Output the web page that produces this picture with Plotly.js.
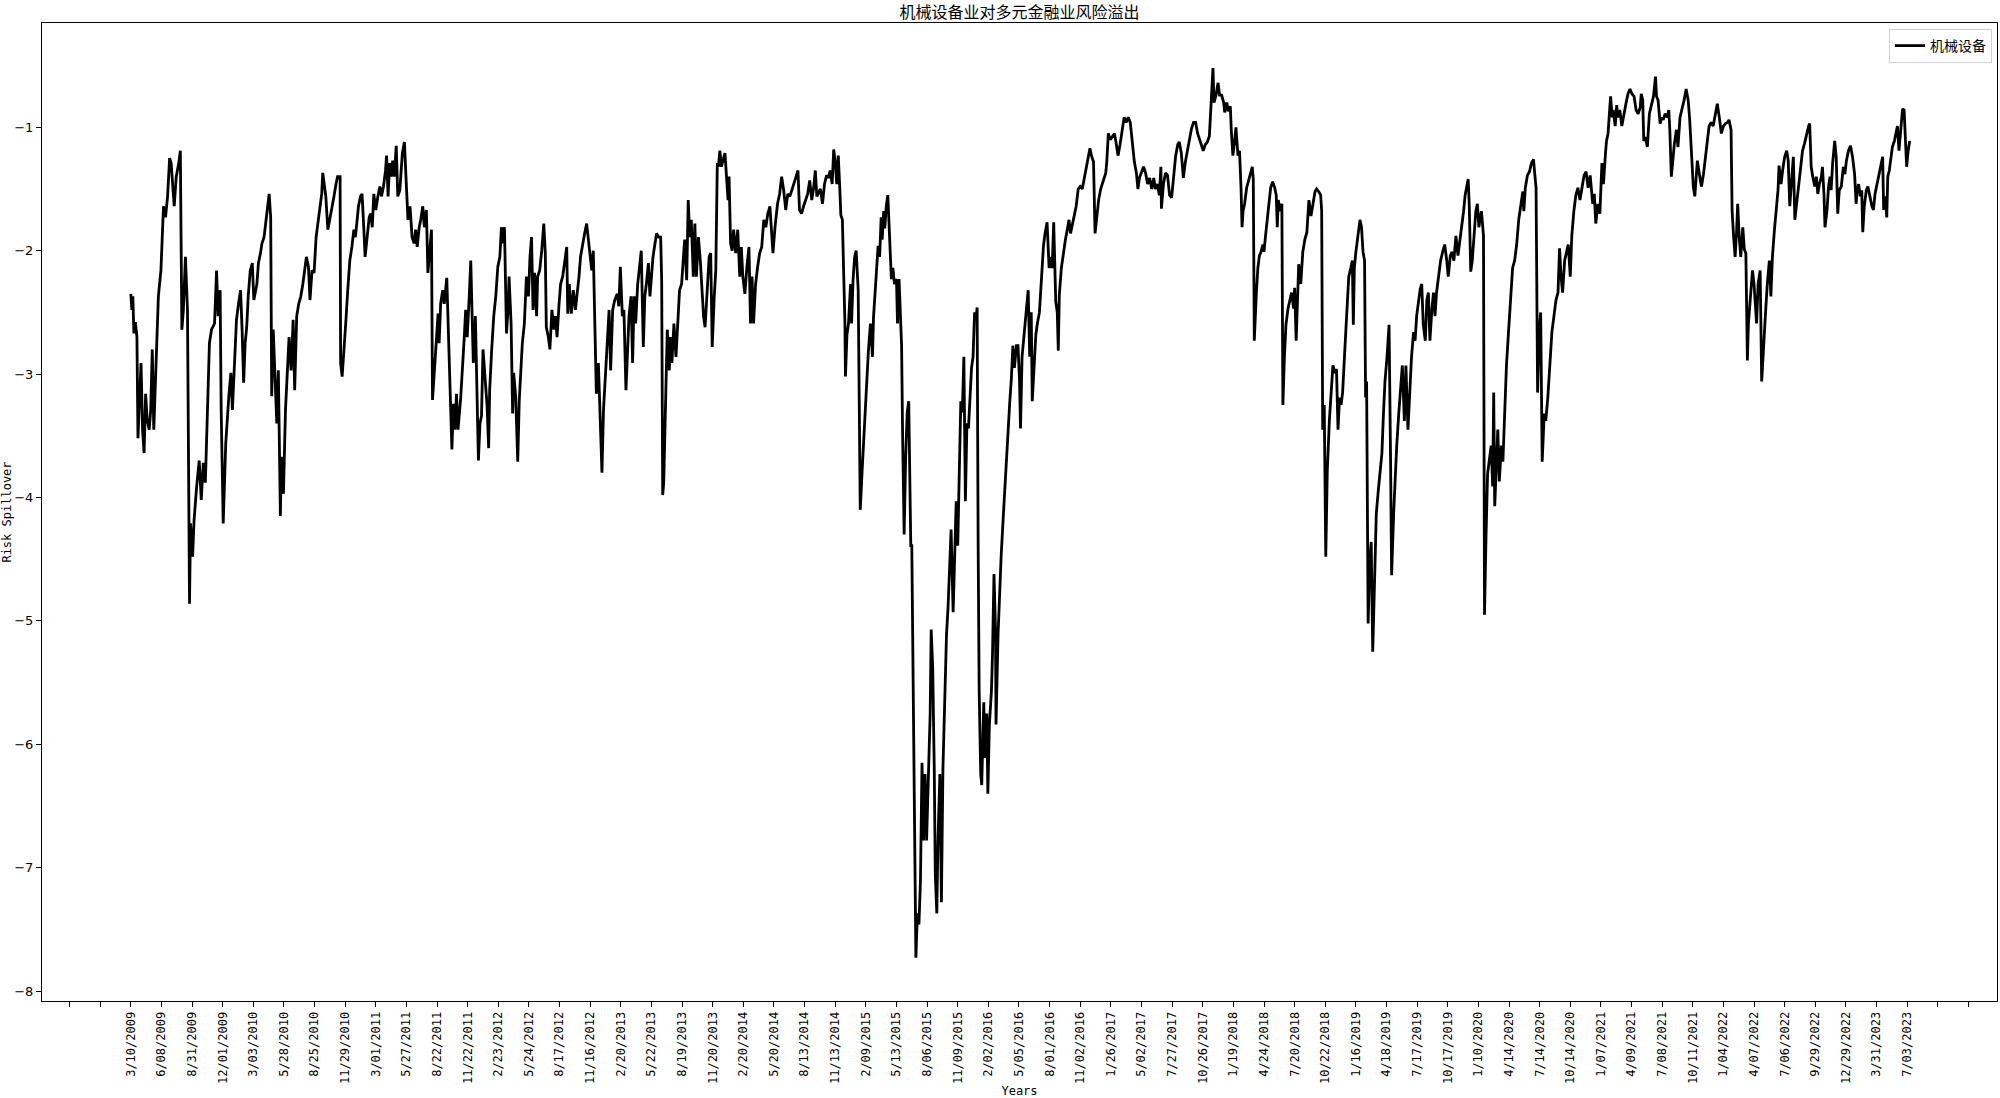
<!DOCTYPE html>
<html>
<head>
<meta charset="utf-8">
<script src="https://cdn.plot.ly/plotly-3.0.1.min.js"></script>
<style>
  html, body { margin: 0; padding: 0; background: #fff; }
  #chart { width: 2000px; height: 1098px; }
</style>
</head>
<body>
<div id="chart"></div>
<script>
// Trading-day index of each reading (0 = 3/10/2009) and the spillover value read there
const dayIndex = [
  0,2,4,6,9,12,14,17,20,23,26,29,32,36,39,42,45,49,54,59,64,68,72,76,79,85,89,94,97,100,
  103,107,111,115,117,121,124,129,134,138,142,146,150,154,158,164,168,171,175,177,181,186,192,196,199,202,207,211,215,218,
  221,224,227,230,234,238,241,247,250,254,257,261,265,268,271,274,276,279,282,286,289,293,295,299,303,307,310,314,318,321,
  325,329,333,337,341,344,348,351,355,359,363,367,371,374,376,380,382,386,390,394,398,402,405,410,411,414,418,421,425,429,
  433,437,440,443,446,450,453,456,459,463,467,470,473,476,480,484,488,491,495,499,501,504,507,510,513,516,520,523,527,532,
  536,539,543,547,551,555,558,561,565,568,572,575,579,582,586,589,591,
  598,602,604,607,611,614,619,621,624,626,629,632,635,638,641,646,650,653,656,659,663,666,669,671,675,677,681,684,687,690,
  694,698,701,703,707,711,715,719,723,726,729,732,736,739,741,745,748,750,754,758,761,764,767,771,775,779,782,785,788,791,
  795,797,801,805,809,812,814,818,821,825,829,832,835,839,842,846,850,854,856,859,863,867,871,874,878,881,885,889,893,897,
  900,903,906,909,912,916,919,923,926,930,934,937,940,944,948,953,956,959,963,966,970,973,976,980,983,986,989,993,997,1000,
  1004,1007,1010,1014,1017,1020,1023,1027,1030,1034,1038,1040,1042,1044,1048,1051,1055,1057,1060,1064,1068,1072,1075,1079,1082,1085,1089,1092,1095,1098,
  1102,1105,1108,1112,1116,1120,1122,1125,1129,1133,1136,1139,1143,1146,1149,1151,1154,1157,1160,1164,1167,1170,1172,1175,1178,1181,1185,1189,1193,1196,
  1199,1203,1207,1211,1214,1217,1220,1224,1228,1232,1236,1240,1244,1248,1252,1255,1258,1262,1267,1271,1275,1279,1283,1287,1291,1295,1299,1303,1307,1310,
  1314,1318,1322,1326,1330,1334,1338,1341,1344,
  1351,1355,1359,1363,1367,1370,1374,1377,1380,1383,1386,1389,1391,1394,1397,1399,1400,1403,1406,1410,1412,1415,1418,1421,1425,1427,1429,1433,1437,1441,
  1445,1449,1453,1455,1458,1461,1464,1467,1470,1472,1475,1477,1480,1483,1487,1490,1493,1496,1500,1502,1505,1508,1510,1512,1515,1518,1521,1524,1526,1528,
  1530,1532,1534,1536,1538,1541,1544,1547,1550,1553,1556,1559,1562,1566,1568,1571,1574,1576,1579,1581,1585,1588,1591,1594,1598,1601,1604,1607,1611,1614,
  1617,1620,1624,1626,1629,1632,1635,1638,1641,1645,1647,1650,1653,1656,1658,1660,1662,1665,1667,1671,1673,1677,1679,1682,1686,1688,1691,1694,1695,1699,
  1702,1705,1709,1712,1715,1718,1722,1725,1728,1731,1735,1738,1741,1743,1746,1750,1754,1758,1761,1764,1766,1769,1773,1776,1780,1784,1788,1791,1795,1799,
  1802,1805,1808,1812,1815,1817,1819,1823,1827,1831,1835,1838,1841,1844,1848,1852,1856,1860,1864,1868,1872,1876,1879,1882,1886,1889,1893,1896,1900,1903,
  1907,1910,1912,1915,1919,1923,1927,1930,1934,1938,1942,1946,1950,1954,1958,1962,1966,1970,1973,1976,1980,1984,1988,1992,1996,2000,2004,2007,2011,2015,
  2018,2019,2023,2027,2031,2035,2039,2043,2047,2051,2054,2058,2062,2066,2070,2074,2078,2082,2086,2090,2094,2098,2101,2105,2109,2113,
  2117,2120,2122,2126,2130,2133,2137,2141,2143,2147,2150,2154,2156,2159,2162,2165,2169,2172,2175,2177,2179,2182,2186,2190,2194,2197,2199,2201,2205,2208,
  2211,2214,2218,2220,2223,2226,2229,2233,2237,2241,2244,2246,2248,2252,2255,2257,2260,2263,2267,2271,2274,2278,2280,2283,2286,2288,2292,2296,2300,2304,
  2308,2312,2316,2320,2323,2327,2331,2333,2335,2338,2341,2344,2348,2352,2355,2359,2362,2365,2368,2371,2374,2378,2382,2386,2390,2393,2395,2397,2400,2404,
  2408,2411,2414,2417,2419,2421,2424,2427,2430,2433,2436,2440,2444,2447,2451,2454,2457,2461,2465,2468,2470,2474,2477,2480,2484,2488,2491,2495,2498,2502,
  2506,2509,2513,2516,2519,2522,2526,2529,2532,2536,2539,2542,2545,2549,2552,2555,2558,2562,2566,2570,2574,2578,2581,2585,2588,2592,2596,2600,2603,2607,
  2611,2614,2617,2620,2622,2625,2628,2631,2635,2638,2641,2643,2646,2650,2652,2655,2658,2661,2665,2668,2670,2672,2675,2678,2681,2685,2688,2692,2695,2699,
  2703,2707,2711,2715,2719,2723,2727,2729,2732,2736,2740,2744,2748,2750,2753,2756,2759,2762,2765,2769,2772,2776,2780,2784,2788,2792,2796,2799,2802,2805,
  2809,2813,2816,2820,2823,2827,2831,2835,2839,2843,2847,2851,2855,2859,
  2864,2867,2870,2874,2878,2882,2885,2889,2891,2894,2897,2899,2902,2904,2908,2911,2913,2917,2921,2925,2929,2933,2937,2941,2945,2949,2953,2957,2959,2962,
  2964,2967,2971,2975,2979,2983,2987,2989,2992,2996,2999,3002,3006,3010,3013,3015,3018,3021,3024,3028,3031,3035,3039,3043,3047,3051,3054,3058,3061,3064,
  3066,3069,3073,3077,3081,3084,3088,3092,3096,3100,3104,3108,3112,3116,3120,3124,3128,3131,3135,3137,3140,3143,3146,3148,3151,3154,3158,3161,3164,3167,
  3169,3173,3177,3180,3182,3185,3188,3192,3195,3199,3202,3206,3210,3213,3216,3220,3223,3227,3229,3233,3236,3240,3244,3247,3250,3253,3257,3260,3263,3267,
  3271,3275,3279,3283,3287,3289,3292,3295,3299,3302,3305,3308,3312,3314,3317,3319,3323,3326,3329,3331,3334,3338,3341,3344,3347,3351,3355,3358,3361,3365,
  3369,3373,3377,3380,3382,3385,3388,3391,3393,3396,3400,3403,3407,3411,3414,3417,3421,3425,3429,3432,3434,3437,3440,3442,3445,3448,3451,3455,3458,3461,
  3464,3468,3471,3474,3476,3479,3482,3485
];

const spillover = [
  -2.35,-2.48,-2.37,-2.67,-2.58,-2.70,-3.52,-3.21,-2.91,-3.45,-3.64,-3.16,-3.37,-3.45,-3.29,-2.80,-3.45,-2.97,-2.37,-2.16,-1.64,-1.73,-1.56,-1.25,-1.29,-1.64,-1.40,-1.29,-1.19,-2.64,
  -2.48,-2.05,-2.48,-4.86,-4.21,-4.48,-4.18,-3.91,-3.70,-4.02,-3.72,-3.88,-3.29,-2.75,-2.64,-2.59,-2.16,-2.53,-2.32,-3.29,-4.21,-3.56,-3.18,-2.99,-3.29,-2.97,-2.56,-2.43,-2.32,-2.64,
  -3.07,-2.75,-2.62,-2.37,-2.16,-2.10,-2.40,-2.27,-2.10,-2.02,-1.94,-1.89,-1.73,-1.64,-1.54,-1.73,-3.18,-2.64,-2.91,-3.40,-2.97,-4.15,-3.67,-3.97,-3.29,-2.99,-2.70,-2.97,-2.56,-3.13,
  -2.53,-2.43,-2.37,-2.27,-2.13,-2.05,-2.13,-2.40,-2.16,-2.18,-1.89,-1.75,-1.64,-1.54,-1.37,-1.51,-1.56,-1.83,-1.75,-1.64,-1.56,-1.46,-1.40,-1.40,-2.91,-3.02,-2.80,-2.59,-2.32,-2.08,
  -1.97,-1.83,-1.89,-1.78,-1.64,-1.56,-1.54,-1.78,-2.05,-1.89,-1.73,-1.70,-1.81,-1.54,-1.67,-1.56,-1.48,-1.56,-1.48,-1.35,-1.23,-1.56,-1.29,-1.40,-1.27,-1.40,-1.15,-1.56,-1.51,-1.21,
  -1.12,-1.40,-1.75,-1.64,-1.89,-1.94,-1.83,-1.97,-1.81,-1.75,-1.64,-1.81,-1.67,-2.18,-1.94,-1.83,-3.21,
  -2.75,-2.51,-2.75,-2.43,-2.32,-2.43,-2.22,-2.48,-2.86,-3.07,-3.61,-3.24,-3.45,-3.16,-3.45,-3.21,-2.86,-2.72,-2.48,-2.70,-2.37,-2.08,-2.59,-2.91,-2.53,-2.91,-3.70,-3.40,-3.34,-2.80,
  -3.07,-3.26,-3.60,-3.13,-2.80,-2.53,-2.37,-2.13,-2.05,-1.81,-1.94,-1.81,-2.67,-2.48,-2.21,-2.59,-3.32,-2.99,-3.18,-3.71,-3.21,-3.02,-2.75,-2.59,-2.21,-2.37,-2.05,-1.89,-2.48,-2.18,
  -2.53,-2.21,-2.16,-2.00,-1.78,-2.02,-2.62,-2.70,-2.80,-2.48,-2.64,-2.53,-2.70,-2.43,-2.27,-2.21,-2.08,-1.97,-2.51,-2.27,-2.51,-2.32,-2.48,-2.37,-2.21,-2.05,-1.94,-1.86,-1.78,-1.94,
  -2.05,-2.16,-2.00,-2.62,-3.16,-2.91,-3.29,-3.80,-3.29,-2.97,-2.70,-2.48,-2.97,-2.48,-2.40,-2.35,-2.45,-2.13,-2.53,-2.48,-3.13,-2.80,-2.53,-2.37,-2.91,-2.37,-2.59,-2.27,-2.08,-2.00,
  -2.78,-2.37,-2.27,-2.10,-2.37,-2.21,-2.05,-1.94,-1.86,-1.89,-1.89,-2.24,-3.98,-3.88,-3.13,-2.64,-2.97,-2.70,-2.91,-2.59,-2.86,-2.48,-2.32,-2.27,-2.08,-1.91,-2.24,-1.59,-1.89,-1.75,
  -2.21,-1.78,-2.21,-1.89,-2.10,-2.43,-2.53,-2.62,-2.37,-2.05,-2.02,-2.78,-2.37,-2.16,-1.29,-1.32,-1.19,-1.32,-1.27,-1.21,-1.40,-1.59,-1.40,-1.94,-2.00,-1.83,-2.02,-1.83,-2.21,-1.97,
  -2.21,-2.35,-2.13,-1.97,-2.59,-2.21,-2.59,-2.27,-2.13,-2.02,-1.97,-1.75,-1.81,-1.70,-1.64,-1.81,-2.02,-1.81,-1.62,-1.54,-1.40,-1.51,-1.67,-1.54,-1.56,-1.51,-1.46,-1.40,-1.35,-1.67,
  -1.70,-1.64,-1.59,-1.54,-1.43,-1.59,-1.48,-1.35,-1.56,
  -1.50,-1.62,-1.46,-1.39,-1.41,-1.35,-1.46,-1.18,-1.28,-1.46,-1.23,-1.50,-1.71,-1.75,-2.18,-2.59,-3.02,-2.68,-2.59,-2.27,-2.59,-2.23,-2.05,-2.00,-2.32,-3.04,-4.10,-3.76,-3.40,-3.04,
  -2.81,-2.59,-2.86,-2.54,-2.36,-2.14,-1.96,-2.05,-1.73,-1.91,-1.68,-1.82,-1.64,-1.55,-1.91,-2.23,-2.14,-2.27,-2.23,-2.59,-2.23,-2.59,-2.77,-3.49,-4.30,-3.67,-3.31,-3.22,-3.67,-4.39,
  -4.39,-5.29,-6.33,-7.28,-7.73,-7.37,-7.46,-7.10,-6.15,-6.78,-6.24,-6.78,-6.24,-5.75,-5.07,-5.38,-6.20,-7.05,-7.37,-6.83,-6.24,-7.28,-6.20,-5.75,-5.11,-4.89,-4.57,-4.26,-4.93,-4.48,
  -4.03,-4.39,-3.58,-3.22,-3.31,-2.86,-4.03,-3.40,-3.44,-3.13,-2.95,-2.86,-2.50,-2.54,-2.46,-4.39,-5.57,-6.24,-6.33,-5.66,-6.11,-5.75,-6.40,-5.84,-5.57,-5.29,-4.62,-5.07,-5.84,-5.11,
  -4.75,-4.48,-4.17,-3.94,-3.67,-3.49,-3.22,-3.04,-2.77,-2.95,-2.77,-2.77,-3.04,-3.44,-2.86,-2.68,-2.50,-2.32,-2.86,-2.50,-3.22,-2.95,-2.68,-2.59,-2.50,-2.23,-1.96,-1.86,-1.77,-2.14,
  -2.05,-2.14,-1.77,-2.41,-2.50,-2.81,-2.36,-2.14,-2.00,-1.91,-1.82,-1.75,-1.86,-1.80,-1.73,-1.64,-1.50,-1.48,-1.50,-1.41,-1.32,-1.23,-1.17,-1.23,-1.28,-1.86,-1.68,-1.59,-1.50,-1.46,
  -1.41,-1.37,-1.28,-1.05,-1.10,-1.07,-1.05,-1.12,-1.23,-1.14,-1.01,-0.92,-0.96,-0.92,-0.96,-1.14,-1.28,-1.37,-1.50,-1.41,-1.37,-1.32,-1.37,-1.46,-1.41,-1.50,-1.41,-1.50,-1.46,-1.55,
  -1.32,-1.66,-1.46,-1.37,-1.39,-1.55,-1.57,-1.37,-1.23,-1.14,-1.12,-1.21,-1.41,-1.28,-1.19,-1.10,-1.01,-0.96,-0.96,-1.05,-1.10,-1.14,-1.19,-1.14,-1.12,-1.07,
  -0.70,-0.52,-0.80,-0.74,-0.64,-0.74,-0.74,-0.80,-0.88,-0.80,-0.87,-0.83,-1.03,-1.23,-1.13,-1.00,-1.23,-1.19,-1.49,-1.81,-1.68,-1.62,-1.49,-1.42,-1.36,-1.32,-1.42,-2.73,-2.34,-2.14,
  -2.04,-2.01,-1.95,-2.01,-1.88,-1.75,-1.62,-1.49,-1.44,-1.49,-1.55,-1.81,-1.59,-1.68,-1.62,-3.25,-2.86,-2.60,-2.47,-2.40,-2.34,-2.47,-2.30,-2.73,-2.21,-2.11,-2.27,-2.01,-1.91,-1.85,
  -1.59,-1.72,-1.62,-1.52,-1.50,-1.52,-1.55,-1.68,-3.45,-3.25,-4.48,-3.78,-3.38,-3.12,-2.93,-2.99,-2.96,-3.45,-3.19,-3.25,-3.15,-2.83,-2.47,-2.21,-2.14,-2.08,-2.60,-2.14,-2.01,-1.88,
  -1.75,-1.81,-2.01,-2.08,-3.19,-3.06,-5.02,-4.53,-4.36,-5.25,-4.79,-4.13,-3.94,-3.81,-3.64,-3.32,-3.06,-2.86,-2.60,-3.71,-4.63,-4.13,-3.78,-3.58,-3.32,-3.12,-2.93,-3.38,-2.93,-3.45,
  -3.06,-2.86,-2.66,-2.73,-2.53,-2.44,-2.31,-2.27,-2.60,-2.73,-2.40,-2.34,-2.73,-2.47,-2.34,-2.53,-2.34,-2.21,-2.08,-2.01,-1.95,-2.08,-2.21,-2.04,-2.01,-2.08,-1.88,-2.04,-1.95,-1.81,
  -1.68,-1.55,-1.49,-1.42,-1.62,-2.17,-2.08,-1.88,-1.68,-1.62,-1.81,-1.75,-1.68,-1.88,-4.95,-4.30,-3.81,-3.71,-3.58,-3.91,-3.15,-4.07,-3.78,-3.45,-3.87,-3.58,-3.71,-3.25,-2.93,-2.66,
  -2.40,-2.14,-2.08,-1.95,-1.75,-1.62,-1.52,-1.68,-1.49,-1.39,-1.36,-1.29,-1.26,-1.36,-1.49,-3.15,-2.66,-2.50,-3.71,-3.32,-3.38,-3.19,-2.93,-2.66,-2.53,-2.40,-2.34,-1.98,-2.21,-2.34,
  -2.08,-2.01,-1.95,-2.21,-1.88,-1.68,-1.55,-1.49,-1.59,-1.49,-1.39,-1.36,-1.49,-1.39,
  -1.62,-1.54,-1.78,-1.62,-1.70,-1.29,-1.46,-1.21,-1.11,-1.05,-0.89,-0.75,-0.92,-0.86,-0.99,-0.82,-0.92,-0.86,-0.99,-0.89,-0.81,-0.73,-0.69,-0.73,-0.75,-0.86,-0.89,-0.84,-0.73,-0.78,
  -1.11,-1.08,-1.16,-0.89,-0.81,-0.75,-0.59,-0.75,-0.78,-0.97,-0.92,-0.94,-0.89,-0.92,-0.86,-1.02,-1.40,-1.24,-1.13,-1.02,-1.16,-0.92,-0.86,-0.78,-0.69,-0.78,-0.94,-1.32,-1.48,-1.56,
  -1.40,-1.27,-1.38,-1.48,-1.38,-1.29,-1.13,-0.99,-0.96,-0.99,-0.89,-0.81,-0.92,-1.05,-0.99,-0.97,-0.96,-0.94,-1.02,-1.67,-1.89,-2.05,-1.83,-1.62,-1.89,-2.05,-1.81,-1.99,-2.02,-2.89,
  -2.59,-2.37,-2.16,-2.27,-2.43,-2.59,-2.27,-2.16,-3.06,-2.81,-2.54,-2.27,-2.08,-2.37,-2.05,-1.83,-1.67,-1.51,-1.31,-1.46,-1.35,-1.24,-1.19,-1.27,-1.64,-1.46,-1.24,-1.75,-1.64,-1.51,
  -1.35,-1.19,-1.13,-1.05,-0.99,-0.97,-1.32,-1.40,-1.48,-1.40,-1.54,-1.46,-1.40,-1.32,-1.54,-1.81,-1.67,-1.48,-1.40,-1.51,-1.29,-1.11,-1.24,-1.70,-1.51,-1.48,-1.32,-1.38,-1.27,-1.19,
  -1.15,-1.24,-1.38,-1.62,-1.51,-1.46,-1.56,-1.51,-1.85,-1.64,-1.51,-1.48,-1.56,-1.64,-1.67,-1.54,-1.46,-1.38,-1.29,-1.24,-1.67,-1.56,-1.73,-1.40,-1.35,-1.27,-1.16,-1.11,-1.05,-0.99,
  -1.19,-0.97,-0.85,-0.86,-1.05,-1.32,-1.19,-1.11
];

// x tick labels, one every 60 trading days starting at index 0
const dateLabels = [
  '3/10/2009','6/08/2009','8/31/2009','12/01/2009','3/03/2010','5/28/2010','8/25/2010','11/29/2010',
  '3/01/2011','5/27/2011','8/22/2011','11/22/2011','2/23/2012','5/24/2012','8/17/2012','11/16/2012',
  '2/20/2013','5/22/2013','8/19/2013','11/20/2013','2/20/2014','5/20/2014','8/13/2014','11/13/2014',
  '2/09/2015','5/13/2015','8/06/2015','11/09/2015','2/02/2016','5/05/2016','8/01/2016','11/02/2016',
  '1/26/2017','5/02/2017','7/27/2017','10/26/2017','1/19/2018','4/24/2018','7/20/2018','10/22/2018',
  '1/16/2019','4/18/2019','7/17/2019','10/17/2019','1/10/2020','4/14/2020','7/14/2020','10/14/2020',
  '1/07/2021','4/09/2021','7/08/2021','10/11/2021','1/04/2022','4/07/2022','7/06/2022','9/29/2022',
  '12/29/2022','3/31/2023','7/03/2023'
];
const tickStep = 60;
const yTicks = [-8, -7, -6, -5, -4, -3, -2, -1];

// ticks run two steps past the labelled ones on each side, unlabelled
const tickVals = [];
const tickText = [];
for (let i = -2; i < dateLabels.length + 2; i++) {
    tickVals.push(i * tickStep);
    tickText.push(dateLabels[i] || '');
}

const monoFont = 'DejaVu Sans Mono, Liberation Mono, monospace';
const cjkFont = 'Noto Sans CJK SC, Noto Sans, sans-serif';

const trace = {
    x: dayIndex,
    y: spillover,
    type: 'scatter',
    mode: 'lines',
    name: '机械设备',
    line: { color: '#000000', width: 2.8 }
};

const layout = {
    width: 2000,
    height: 1098,
    margin: { l: 42, r: 3, t: 23, b: 97 },
    paper_bgcolor: '#ffffff',
    plot_bgcolor: '#ffffff',
    title: {
        text: '机械设备业对多元金融业风险溢出',
        font: { family: cjkFont, size: 16, color: '#000' },
        x: 0.5, xref: 'paper',
        y: 1 - 12 / 1098, yref: 'container', yanchor: 'middle'
    },
    showlegend: true,
    legend: {
        x: 1 - 5 / 1955, y: 1 - 6 / 978,
        xanchor: 'right', yanchor: 'top',
        bgcolor: '#ffffff',
        bordercolor: '#d0d0d0',
        borderwidth: 1,
        font: { family: cjkFont, size: 14, color: '#000' }
    },
    xaxis: {
        range: [-174, 3656],
        tickmode: 'array',
        tickvals: tickVals,
        ticktext: tickText,
        tickangle: -90,
        ticks: 'outside',
        ticklen: 5,
        tickwidth: 1,
        tickcolor: '#000',
        tickfont: { family: monoFont, size: 12, color: '#000' },
        showline: true,
        linecolor: '#000',
        linewidth: 1,
        mirror: true,
        showgrid: false,
        zeroline: false,
        automargin: false,
        title: { text: 'Years', font: { family: monoFont, size: 12, color: '#000' }, standoff: 6 }
    },
    yaxis: {
        range: [-8.08, -0.155],
        tickmode: 'array',
        tickvals: yTicks,
        ticks: 'outside',
        ticklen: 5,
        tickwidth: 1,
        tickcolor: '#000',
        tickfont: { family: 'DejaVu Sans, sans-serif', size: 13, color: '#000' },
        showline: true,
        linecolor: '#000',
        linewidth: 1,
        mirror: true,
        showgrid: false,
        zeroline: false,
        automargin: false,
        title: { text: 'Risk Spillover', font: { family: monoFont, size: 12, color: '#000' }, standoff: 4 }
    }
};

Plotly.newPlot('chart', [trace], layout, { displayModeBar: false, staticPlot: true });
</script>
</body>
</html>
